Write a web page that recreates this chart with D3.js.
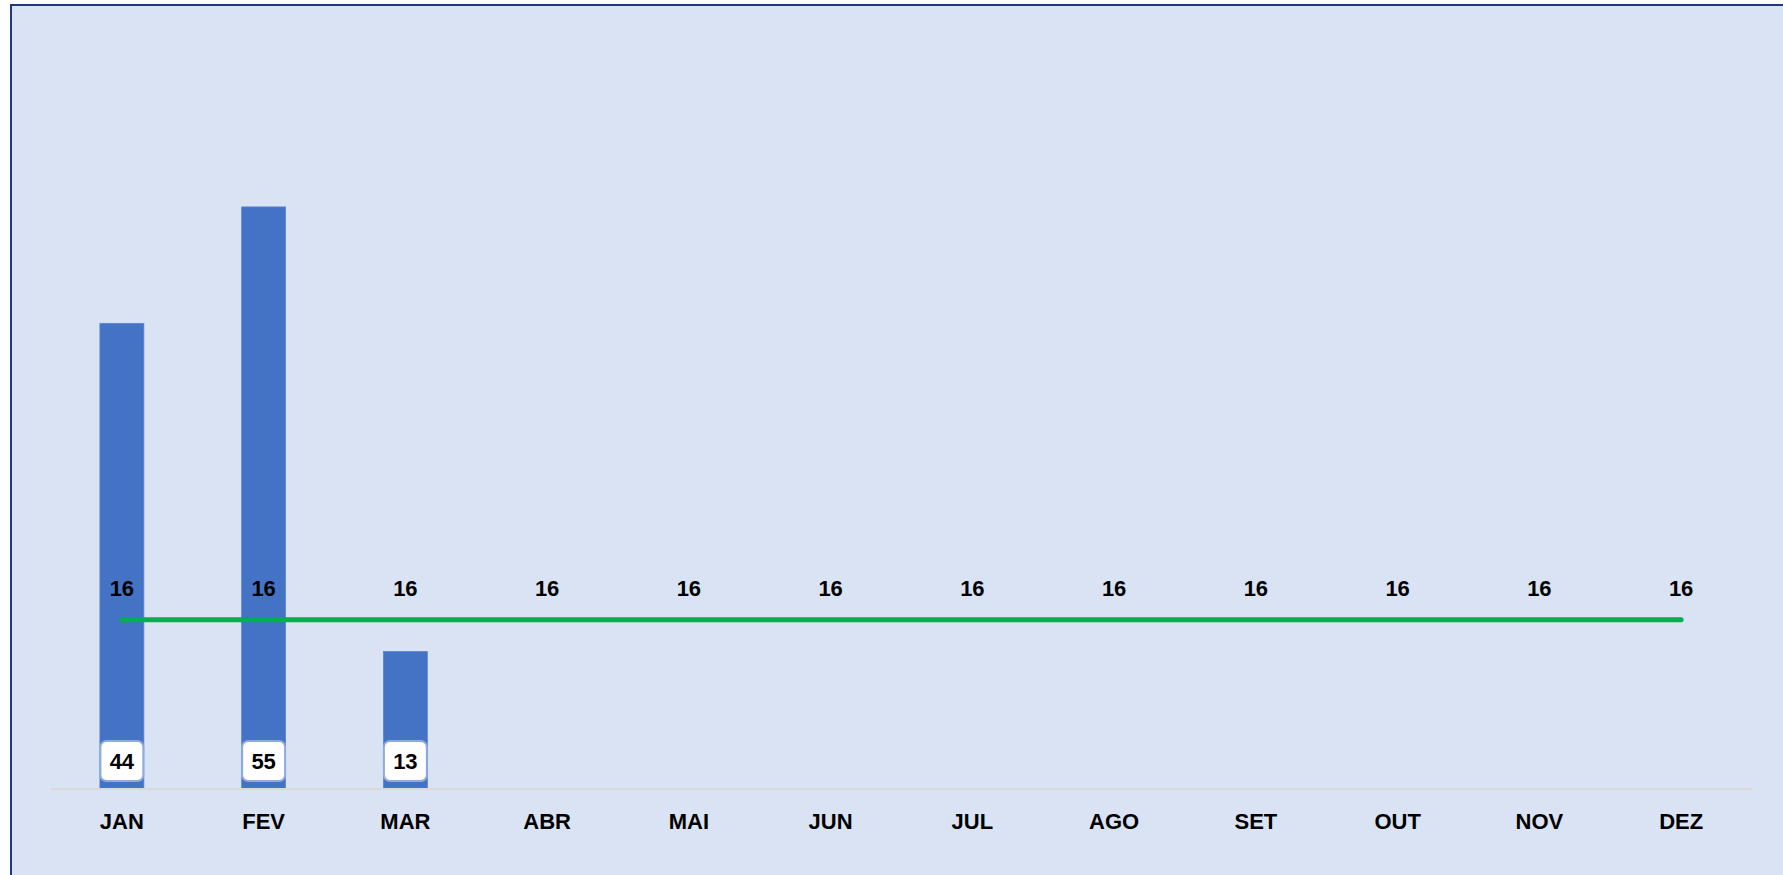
<!DOCTYPE html>
<meta charset="utf-8">
<head>
<title>Meta mensal</title>
<style>
body { margin: 0; background: #fff; }
.label { font: bold 22px "Liberation Sans", Arial, sans-serif; fill: #000; }
</style>
</head>
<body>
<script src="https://cdn.jsdelivr.net/npm/d3@7"></script>
<script>

// Data
var months = ["JAN", "FEV", "MAR", "ABR", "MAI", "JUN", "JUL", "AGO", "SET", "OUT", "NOV", "DEZ"];
var realizado = [44, 55, 13];
var meta = [16, 16, 16, 16, 16, 16, 16, 16, 16, 16, 16, 16];

var W = 1783, H = 875,
    left = 51, right = 1752,
    base = 789;

var svg = d3.select("body").append("svg")
    .attr("width", W)
    .attr("height", H);

// Chart area background + border (only left/top visible in frame)
svg.append("rect")
    .attr("x", 11).attr("y", 5)
    .attr("width", W + 20).attr("height", H + 20)
    .style("fill", "#dae3f3")
    .style("stroke", "#1f3a78")
    .style("stroke-width", 2);

var x = d3.scaleBand().domain(months).range([left, right]);
var y = d3.scaleLinear().domain([0, 60]).range([base, base - 635]);

var barW = x.bandwidth() * 0.31;
var cx = function(m) { return x(m) + x.bandwidth() / 2; };

// Bars
var bars = realizado.map(function(v, i) { return {m: months[i], v: v}; });

svg.selectAll(".bar")
    .data(bars)
    .enter().append("rect")
    .attr("class", "bar")
    .attr("x", function(d) { return cx(d.m) - barW / 2; })
    .attr("y", function(d) { return y(d.v); })
    .attr("width", barW)
    .attr("height", function(d) { return base - y(d.v); })
    .style("fill", "#4472c4")
    .style("stroke", "#5b85d0")
    .style("stroke-width", 0.8);

// Axis line
svg.append("line")
    .attr("x1", left).attr("x2", right)
    .attr("y1", base).attr("y2", base)
    .style("stroke", "#d9d9d9")
    .style("stroke-width", 2);

// Meta line
var metaData = meta.map(function(v, i) { return {m: months[i], v: v}; });
var line = d3.line()
    .x(function(d) { return cx(d.m); })
    .y(function(d) { return y(d.v); });

svg.append("path")
    .datum(metaData)
    .attr("d", line)
    .style("fill", "none")
    .style("stroke", "#00b050")
    .style("stroke-width", 5)
    .style("stroke-linecap", "round");

// Meta labels
svg.selectAll(".metalbl")
    .data(metaData)
    .enter().append("text")
    .attr("class", "label")
    .attr("text-anchor", "middle")
    .attr("x", function(d) { return cx(d.m); })
    .attr("y", function(d) { return y(d.v) - 24; })
    .text(function(d) { return d.v; });

// Value label boxes
var boxes = svg.selectAll(".vbox")
    .data(bars)
    .enter().append("g");

boxes.append("rect")
    .attr("x", function(d) { return cx(d.m) - barW / 2 + 0.5; })
    .attr("y", base - 48)
    .attr("width", barW - 1)
    .attr("height", 40)
    .attr("rx", 6)
    .style("fill", "#fff")
    .style("stroke", "#8faadc")
    .style("stroke-width", 2);

boxes.append("text")
    .attr("class", "label")
    .attr("text-anchor", "middle")
    .attr("x", function(d) { return cx(d.m); })
    .attr("y", base - 20)
    .text(function(d) { return d.v; });

// Month labels
svg.selectAll(".month")
    .data(months)
    .enter().append("text")
    .attr("class", "label")
    .attr("text-anchor", "middle")
    .attr("x", function(d) { return cx(d); })
    .attr("y", base + 40)
    .text(function(d) { return d; });

</script>
</body>
